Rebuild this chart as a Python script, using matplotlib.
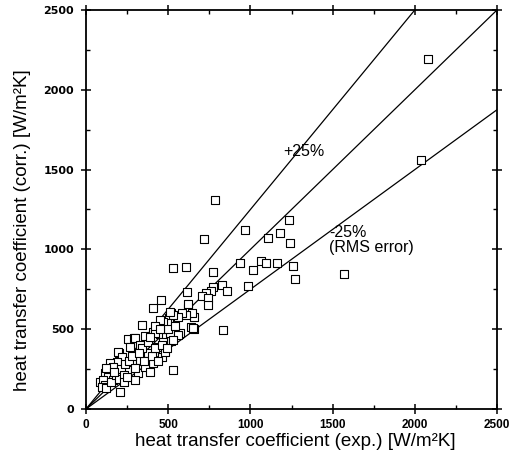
import numpy as np
import matplotlib
matplotlib.use("Agg")
from matplotlib import pyplot as plt
from matplotlib.ticker import MultipleLocator

plt.rcParams['font.family'] = ['Liberation Sans', 'DejaVu Sans']

# experimental vs correlated heat transfer coefficient [W/m2K]
h_exp = [2080, 2040, 785, 720, 1237, 967, 1109, 1180, 1241, 770, 939, 1018, 1066, 1095,
         1162, 1257, 1273, 1571, 985, 825, 856, 771, 760, 730, 704, 744, 742, 831, 531,
         608, 616, 456, 408, 342, 527, 203, 207,
         517, 507, 602, 659, 622, 618, 568, 639, 659, 409, 450, 487, 515, 257, 294, 643,
         608, 582, 561, 531, 511, 491, 470, 450, 653, 572,
         85, 116, 146, 136, 197, 217, 187, 298, 328, 268, 278, 328, 248, 318, 298, 379,
         430, 470, 409, 460, 359, 389, 420, 511, 561, 480, 531, 146, 166, 105, 116, 166,
         100, 120, 150, 180, 200, 210, 230, 240, 260, 280, 300, 340, 350, 380, 400, 420,
         440, 460, 490, 500, 540, 360, 230, 250, 120, 170, 320, 390, 420, 450]
h_corr = [2190, 1560, 1310, 1063, 1184, 1120, 1069, 1103, 1038, 856, 913, 873, 925, 917,
          915, 898, 816, 844, 773, 779, 737, 766, 737, 725, 710, 694, 650, 493, 885,
          892, 733, 683, 633, 528, 244, 353, 108,
          600, 568, 593, 578, 631, 656, 472, 512, 499, 484, 468, 453, 428, 440, 447, 599,
          589, 599, 578, 589, 610, 537, 547, 558, 506, 474,
          171, 224, 244, 202, 359, 328, 296, 443, 401, 390, 286, 307, 244, 224, 182, 349,
          390, 422, 286, 328, 265, 234, 474, 474, 464, 359, 432, 286, 265, 182, 150, 182,
          140, 130, 170, 210, 190, 250, 210, 280, 300, 330, 260, 380, 300, 420, 330, 380,
          300, 400, 380, 500, 520, 460, 170, 200, 260, 230, 350, 450, 520, 500]

# deviation lines: +25%, exact, -25%
factors = [1.25, 1.0, 0.75]
line_x = [0, 2500]

fig = plt.figure(figsize=(5.15, 4.70), dpi=100)
ax = fig.add_axes([86 / 515, 61 / 470, 411 / 515, 399 / 470])

for f in factors:
    ax.plot(line_x, [f * v for v in line_x], color='black', lw=0.9)

ax.scatter(h_exp, h_corr, marker='s', s=28, facecolors='white', edgecolors='black',
           linewidths=0.8, zorder=3)

ax.text(1200, 1585, '+25%', fontsize=11.5)
ax.text(1480, 1075, '-25%', fontsize=11.5)
ax.text(1480, 985, '(RMS error)', fontsize=11.5)

ax.set_xlim(0, 2500)
ax.set_ylim(0, 2500)
ax.xaxis.set_major_locator(MultipleLocator(500))
ax.yaxis.set_major_locator(MultipleLocator(500))
ax.xaxis.set_minor_locator(MultipleLocator(250))
ax.yaxis.set_minor_locator(MultipleLocator(250))
ax.tick_params(which='major', direction='inout', length=7, width=1.1,
               top=True, right=True)
ax.tick_params(axis='x', which='major', labelsize=8.5)
ax.tick_params(axis='y', which='major', labelsize=8, pad=5)
ax.tick_params(which='minor', direction='in', length=3, width=1.0, top=True, right=True)
for lbl in ax.get_xticklabels():
    lbl.set_fontweight('bold')
# y tick numbers in the scan are wider than the x ones
for lbl in ax.get_yticklabels():
    lbl.set_fontweight('bold')
    lbl.set_family('DejaVu Sans')
for sp in ax.spines.values():
    sp.set_linewidth(1.3)

# axis titles placed in figure pixels like the original
fig.text(295 / 515, 1 - 441 / 470, 'heat transfer coefficient (exp.) [W/m²K]',
         fontsize=13.5, ha='center', va='center')
fig.text(23 / 515, 1 - 230 / 470, 'heat transfer coefficient (corr.) [W/m²K]',
         fontsize=13.5, ha='center', va='center', rotation=90)

fig.savefig('out.png', dpi=100)
